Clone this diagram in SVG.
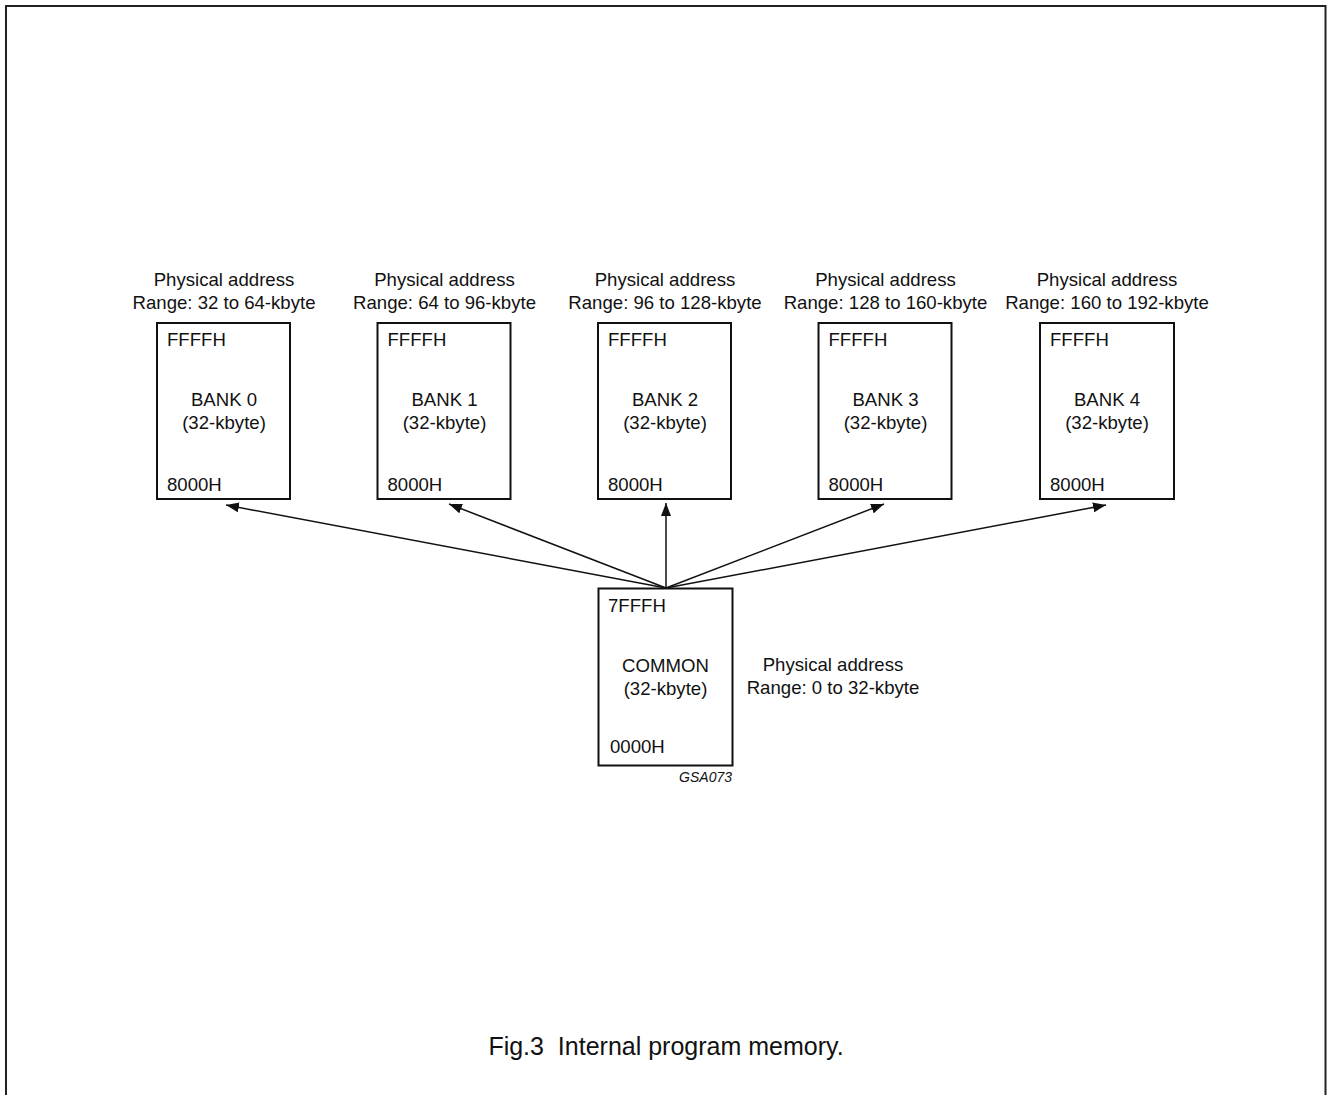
<svg xmlns="http://www.w3.org/2000/svg" width="1327" height="1095" viewBox="0 0 1327 1095">
<style>
text{font-family:"Liberation Sans",Arial,sans-serif;font-size:18.6px;fill:#111}
.c{text-anchor:middle}
.box{fill:#fff;stroke:#111;stroke-width:2}
.conn{stroke:#111;stroke-width:1.5;fill:none;marker-end:url(#ah)}
</style>
<defs>
<marker id="ah" markerUnits="userSpaceOnUse" markerWidth="14" markerHeight="10" refX="13" refY="5" orient="auto">
<path d="M0,0 L13,5 L0,10 Z" fill="#111"/>
</marker>
</defs>
<rect width="1327" height="1095" fill="#fff"/>
<path d="M6,1095 V6 H1325.5 V1095" fill="none" stroke="#222" stroke-width="2"/>

<g id="connectors">
<line class="conn" x1="666" y1="588" x2="226" y2="505"/>
<line class="conn" x1="666" y1="588" x2="449" y2="504"/>
<line class="conn" x1="666" y1="588" x2="666" y2="503"/>
<line class="conn" x1="666" y1="588" x2="884" y2="504"/>
<line class="conn" x1="666" y1="588" x2="1106" y2="505"/>
</g>

<g id="bank0">
<text class="c" x="224" y="286">Physical address</text>
<text class="c" x="224" y="309">Range: 32 to 64-kbyte</text>
<rect class="box" x="157" y="323" width="133" height="176"/>
<text x="167" y="346">FFFFH</text>
<text class="c" x="224" y="406">BANK 0</text>
<text class="c" x="224" y="429">(32-kbyte)</text>
<text x="167" y="491">8000H</text>
</g>

<g id="bank1">
<text class="c" x="444.5" y="286">Physical address</text>
<text class="c" x="444.5" y="309">Range: 64 to 96-kbyte</text>
<rect class="box" x="377.5" y="323" width="133" height="176"/>
<text x="387.5" y="346">FFFFH</text>
<text class="c" x="444.5" y="406">BANK 1</text>
<text class="c" x="444.5" y="429">(32-kbyte)</text>
<text x="387.5" y="491">8000H</text>
</g>

<g id="bank2">
<text class="c" x="665" y="286">Physical address</text>
<text class="c" x="665" y="309">Range: 96 to 128-kbyte</text>
<rect class="box" x="598" y="323" width="133" height="176"/>
<text x="608" y="346">FFFFH</text>
<text class="c" x="665" y="406">BANK 2</text>
<text class="c" x="665" y="429">(32-kbyte)</text>
<text x="608" y="491">8000H</text>
</g>

<g id="bank3">
<text class="c" x="885.5" y="286">Physical address</text>
<text class="c" x="885.5" y="309">Range: 128 to 160-kbyte</text>
<rect class="box" x="818.5" y="323" width="133" height="176"/>
<text x="828.5" y="346">FFFFH</text>
<text class="c" x="885.5" y="406">BANK 3</text>
<text class="c" x="885.5" y="429">(32-kbyte)</text>
<text x="828.5" y="491">8000H</text>
</g>

<g id="bank4">
<text class="c" x="1107" y="286">Physical address</text>
<text class="c" x="1107" y="309">Range: 160 to 192-kbyte</text>
<rect class="box" x="1040" y="323" width="134" height="176"/>
<text x="1050" y="346">FFFFH</text>
<text class="c" x="1107" y="406">BANK 4</text>
<text class="c" x="1107" y="429">(32-kbyte)</text>
<text x="1050" y="491">8000H</text>
</g>

<g id="common">
<rect class="box" x="598.5" y="588.5" width="134" height="177"/>
<text x="608" y="612">7FFFH</text>
<text class="c" x="665.5" y="672">COMMON</text>
<text class="c" x="665.5" y="695">(32-kbyte)</text>
<text x="610" y="752.5">0000H</text>
<text class="c" x="833" y="671">Physical address</text>
<text class="c" x="833" y="694">Range: 0 to 32-kbyte</text>
<text x="732" y="782" style="font-size:14px;font-style:italic;text-anchor:end">GSA073</text>
</g>

<text class="c" x="666" y="1055" style="font-size:25px" xml:space="preserve">Fig.3  Internal program memory.</text>
</svg>
